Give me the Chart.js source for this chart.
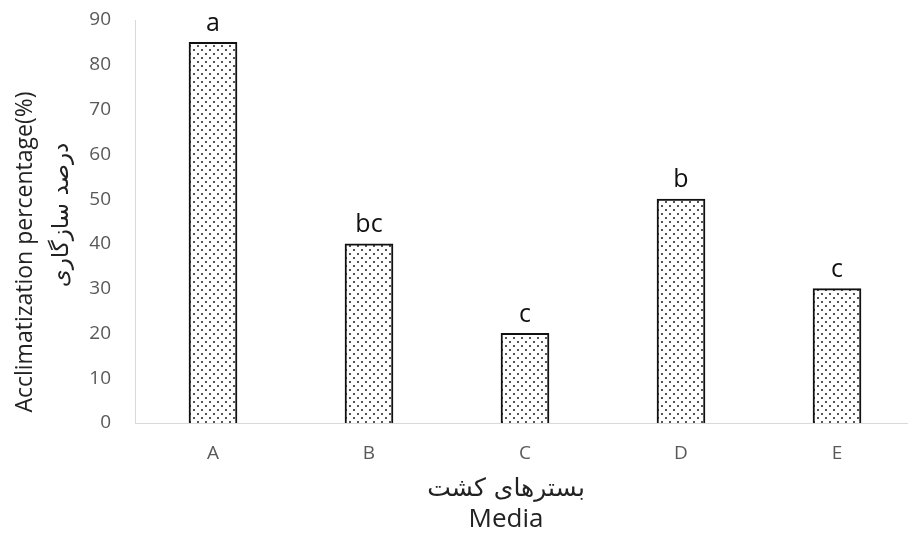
<!DOCTYPE html>
<html>
<head>
<meta charset="utf-8">
<script src="https://cdn.jsdelivr.net/npm/chart.js@4"></script>
<style>
html,body{margin:0;padding:0;background:#fff;overflow:hidden;}
canvas{display:block;}
</style>
</head>
<body>
<canvas id="chart" width="915" height="536"></canvas>
<script>

// DATA
const media = ["A","B","C","D","E"];
const acclimatization = [85,40,20,50,30];
const groupLetters = ["a","bc","c","b","c"];
const yTitleLines = ["Acclimatization percentage(%)","درصد سازگاری"];
const xTitleLines = ["بسترهای کشت","Media"];

// dotted fill like the excel pattern
function dotPattern(){
  const c = document.createElement("canvas");
  c.width = 8; c.height = 8;
  const g = c.getContext("2d");
  g.fillStyle = "#fff";
  g.fillRect(0,0,8,8);
  g.fillStyle = "#555";
  g.fillRect(1,1,2,2);
  g.fillRect(5,5,2,2);
  return document.getElementById("chart").getContext("2d").createPattern(c,"repeat");
}

const FONT = "'Open Sans', Lato, sans-serif";
const tickFont = {family:FONT, size:19};

// letters above bars + axis titles
const extras = {
  id:"extras",
  afterDatasetsDraw(chart){
    const ctx = chart.ctx;
    const meta = chart.getDatasetMeta(0);
    ctx.save();
    ctx.fillStyle = "#111";
    ctx.font = "25px " + FONT;
    ctx.textAlign = "center";
    ctx.textBaseline = "middle";
    meta.data.forEach((bar,i)=>{
      ctx.fillText(groupLetters[i], bar.x, bar.y - 19);
    });

    // y title
    ctx.fillStyle = "#222";
    ctx.save();
    ctx.translate(25, 252);
    ctx.rotate(-Math.PI/2);
    ctx.font = "23px " + FONT;
    ctx.fillText(yTitleLines[0], 0, 0);
    ctx.restore();
    ctx.save();
    ctx.translate(62, 215);
    ctx.rotate(-Math.PI/2);
    ctx.font = "23px 'DejaVu Sans', sans-serif";
    ctx.fillText(yTitleLines[1], 0, 0);
    ctx.restore();

    // x title
    ctx.font = "25px 'DejaVu Sans', sans-serif";
    ctx.fillText(xTitleLines[0], 506, 489);
    ctx.font = "26px " + FONT;
    ctx.fillText(xTitleLines[1], 506, 520);
    ctx.restore();
  }
};

new Chart(document.getElementById("chart"),{
  type:"bar",
  data:{
    labels:media,
    datasets:[{
      data:acclimatization,
      backgroundColor:dotPattern(),
      borderColor:"#111",
      borderWidth:2,
      barThickness:48
    }]
  },
  options:{
    responsive:false,
    animation:false,
    layout:{padding:{top:20,right:0,bottom:0,left:0}},
    plugins:{legend:{display:false},tooltip:{enabled:false}},
    scales:{
      x:{
        grid:{display:false,drawTicks:false},
        border:{display:true,color:"#d9d9d9",width:1},
        ticks:{color:"#595959",font:tickFont,padding:19},
        afterFit(s){ s.height = 113; }
      },
      y:{
        min:0,
        max:90,
        grid:{display:false,drawTicks:true,tickLength:20},
        border:{display:true,color:"#d9d9d9",width:1},
        ticks:{stepSize:10,color:"#595959",font:tickFont,padding:4},
        afterFit(s){ s.width = 135; }
      }
    }
  },
  plugins:[extras]
});

</script>
</body>
</html>
